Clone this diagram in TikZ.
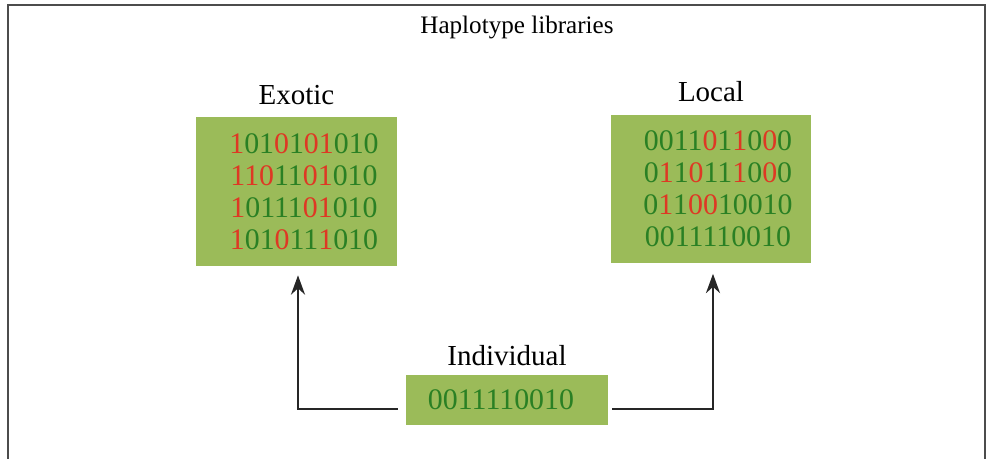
\documentclass[tikz,border=0pt]{standalone}
\usepackage{fontspec}
\setmainfont{Liberation Serif}
\usepackage{tikz}
\usetikzlibrary{
	positioning,
	arrows.meta
}
\definecolor{boxgreen}{RGB}{155,187,89}
\definecolor{bitgreen}{RGB}{42,128,36}
\definecolor{bitred}{RGB}{222,56,36}
\newcommand{\rb}[1]{\textcolor{bitred}{#1}}

\begin{document}
\begin{tikzpicture}[x=0.02cm,y=-0.02cm,
		lib/.style={fill=boxgreen, minimum width=4.02cm, minimum height=2.98cm},
		bits/.style={text=bitgreen, align=center, font=\fontsize{17}{18.2}\selectfont},
		head/.style={font=\fontsize{16.5}{19}\selectfont},
		link/.style={-{Stealth[length=11pt,width=8pt]}, line width=1.2pt, black!85}
	]
		\useasboundingbox (0,0) rectangle (988,459);
		\draw[line width=1.2pt, black!70] (8,470) |- (985,5) -- (985,470);

		\node[font=\fontsize{14.3}{16}\selectfont] (title) at (517,27) {Haplotype libraries};

		\node[lib] (exotic) at (296.5,191.5) {};
		\node[lib] (local) at (711,189) {};
		\node[lib, minimum width=4.04cm, minimum height=1cm] (indiv) at (507,400) {};

		\node[bits] (exoticbits) at ([xshift=0.15cm]exotic.center) {
			\rb{1}01\rb{0}1\rb{01}010\\
			\rb{110}11\rb{01}010\\
			\rb{1}0111\rb{01}010\\
			\rb{1}01\rb{0}11\rb{1}010};
		\node[bits] (localbits) at ([xshift=0.14cm]local.center) {
			0011\rb{0}1\rb{1}0\rb{0}0\\
			0\rb{1}1\rb{0}11\rb{1}0\rb{0}0\\
			0\rb{1}1\rb{00}10010\\
			0011110010};
		\node[bits] (indivbits) at ([xshift=-0.12cm]indiv.center) {0011110010};

		\node[head, above=0.12cm of exotic] (exoticlbl) {Exotic};
		\node[head, above=0.12cm of local] (locallbl) {Local};
		\node[head, above=0.06cm of indiv] (indivlbl) {Individual};

		% connectors
		\draw[link] ([xshift=-0.16cm,yshift=-0.18cm]indiv.west) -| ([xshift=0.03cm,yshift=-0.18cm]exotic.south);
		\draw[link] ([xshift=0.08cm,yshift=-0.18cm]indiv.east) -| ([xshift=0.04cm,yshift=-0.2cm]local.south);
\end{tikzpicture}
\end{document}
